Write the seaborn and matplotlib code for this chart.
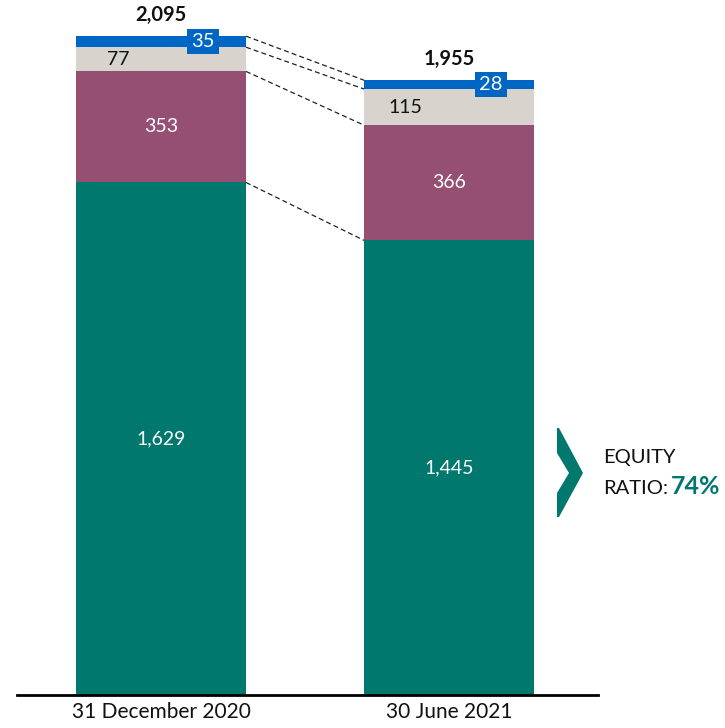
import numpy as np
import pandas as pd
import matplotlib
matplotlib.use("Agg")
import matplotlib.pyplot as plt
from matplotlib.patches import Polygon
import seaborn as sns

# === Data ===
dates = ["31 December 2020", "30 June 2021"]
equity = [1629, 1445]
non_current = [353, 366]
current = [77, 115]
other = [35, 28]
totals = [2095, 1955]  # reported totals (rounded)
equity_ratio = "74%"

segments = [equity, non_current, current, other]
colors = ["#00786E", "#954F72", "#D8D3CD", "#0066C4"]
text_colors = ["white", "white", "#111111", "white"]

sns.set_theme(style="white")
plt.rcParams["font.family"] = ["Lato", "DejaVu Sans"]

fig = plt.figure(figsize=(7.25, 7.28), dpi=100)
ax = fig.add_axes([17 / 725, 33 / 728, 581 / 725, 695 / 728])

bar_w = 0.59
cum = np.cumsum(np.array(segments), axis=0)  # shape (4, 2)

# === Stacked bars: draw cumulative heights from the top down ===
for level in range(len(segments) - 1, -1, -1):
    df = pd.DataFrame({"date": dates, "value": cum[level]})
    sns.barplot(data=df, x="date", y="value", order=dates, color=colors[level],
                saturation=1, width=bar_w, ax=ax, errorbar=None, linewidth=0)

# === Segment labels ===
for i in range(len(dates)):
    for level in range(len(segments)):
        bottom = cum[level - 1][i] if level > 0 else 0
        mid = bottom + segments[level][i] / 2
        val = f"{segments[level][i]:,}"
        if level == 3:
            ax.text(i + 0.146, mid, val, ha="center", va="center", color="white",
                    fontsize=14.5, bbox=dict(facecolor=colors[3], edgecolor="none", pad=3))
        elif level == 2:
            ax.text(i - 0.15, mid, val, ha="center", va="center", color=text_colors[level],
                    fontsize=14)
        else:
            ax.text(i, mid, val, ha="center", va="center", color=text_colors[level],
                    fontsize=14)
    ax.annotate(f"{totals[i]:,}", (i, cum[-1][i]), xytext=(0, 8), textcoords="offset points",
                ha="center", va="bottom", fontsize=14.5, fontweight="bold", color="#111111")

# === Dashed connectors between the bars ===
for level in range(len(segments)):
    ax.plot([0 + bar_w / 2, 1 - bar_w / 2], [cum[level][0], cum[level][1]],
            ls=(0, (4, 2.5)), color="#222222", lw=0.9)

# === Axes styling ===
ax.set_xlim(-0.5, 1.517)
ax.set_ylim(0, 2209)
sns.despine(ax=ax, left=True, top=True, right=True)
ax.spines["bottom"].set_color("black")
ax.spines["bottom"].set_linewidth(2)
ax.set_yticks([])
ax.set_xlabel("")
ax.set_ylabel("")
ax.tick_params(axis="x", length=0, pad=5, labelsize=15, labelcolor="#111111")

# === Equity ratio callout ===
def px(x, y):
    return (x / 725, 1 - y / 728)

chev = Polygon([px(557, 428), px(559, 428), px(583, 473), px(559, 517), px(557, 517),
                px(557, 493), px(569, 473), px(557, 453)],
               closed=True, transform=fig.transFigure, facecolor=colors[0], edgecolor="none")
fig.patches.append(chev)
fig.text(*px(603, 458), "EQUITY", ha="left", va="center", fontsize=14.5, color="#111111")
ratio_txt = fig.text(*px(603, 488), "RATIO:", ha="left", va="center", fontsize=14.5,
                     color="#111111")
fig.canvas.draw()
bb = ratio_txt.get_window_extent()
fig.text((bb.x1 + 3) / 725, 1 - 487 / 728, equity_ratio, ha="left", va="center",
         fontsize=18, fontweight="bold", color=colors[0])

fig.savefig("out.png", dpi=100)
